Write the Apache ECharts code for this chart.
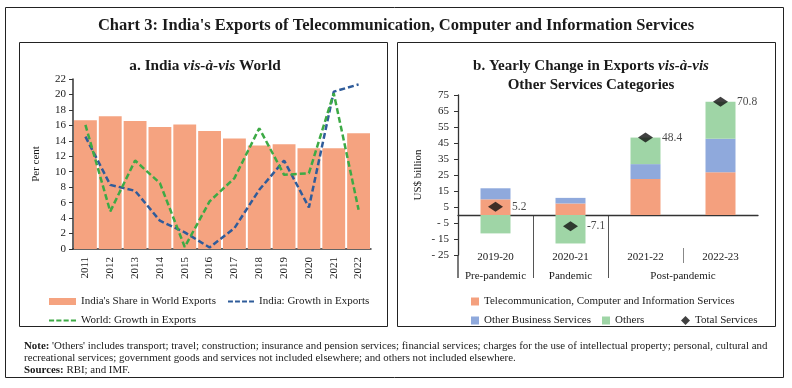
<!DOCTYPE html>
<html><head><meta charset="utf-8">
<script src="https://cdn.jsdelivr.net/npm/echarts@6/dist/echarts.min.js"></script>
<style>html,body{margin:0;padding:0;background:#fff}#c{width:792px;height:388px}</style>
</head><body><div id="c"></div>
<script>
// ---- Panel a data ----
const years = ['2011','2012','2013','2014','2015','2016','2017','2018','2019','2020','2021','2022'];
const indiaShare = [16.66,17.18,16.57,15.8,16.1,15.28,14.29,13.39,13.56,13.04,13.04,14.98];
const indiaGrowth = [14.55,8.3,7.53,3.66,2.15,0.2,2.7,7.66,11.45,5.38,20.36,21.3];
const worldGrowth = [16.06,4.86,11.45,8.52,0.26,6.16,9.17,15.63,9.6,9.81,20.15,5.08];

// ---- Panel b data ----
const periods = ['2019-20','2020-21','2021-22','2022-23'];
const phases = ['Pre-pandemic','Pandemic','Post-pandemic'];
const phaseOf = [0,1,2,2];
const telecom = [9.8,7.2,22.5,26.7];
const otherBiz = [6.9,3.5,9.3,21.0];
const others = [-11.5,-17.8,16.6,23.1];
const total = [5.2,-7.1,48.4,70.8];
const rightTicks = [-25,-15,-5,5,15,25,35,45,55,65,75];

const FONT = 'Liberation Serif';
const TXT = '#1a1a1a';
const AX = '#333';
const DASH_ICON = 'path://M0,0h7v3h-7z M10,0h7v3h-7z M20,0h7v3h-7z M30,0h7v3h-7z';

const phaseCenters = phases.map((p,i)=>{
  const idx = phaseOf.map((v,j)=>v===i?j:-1).filter(j=>j>=0);
  return (Math.min(...idx) + Math.max(...idx) + 1) / 2;
});

const chart = echarts.init(document.getElementById('c'), null, {renderer:'canvas'});
const baseText = {fontFamily: FONT, color: TXT};

const option = {
  animation: false,
  backgroundColor: '#fff',
  textStyle: {fontFamily: FONT},
  title: [
    {text: "Chart 3: India's Exports of Telecommunication, Computer and Information Services",
     left: 391, textAlign: 'center', top: 12,
     textStyle: {fontFamily: FONT, fontSize: 16.5, fontWeight: 'bold', color: TXT}},
    {text: '{n|a. India }{i|vis-à-vis}{n| World}', left: 200, textAlign: 'center', top: 54,
     textStyle: {rich: {
       n: {fontFamily: FONT, fontSize: 15.3, fontWeight: 'bold', color: TXT},
       i: {fontFamily: FONT, fontSize: 15.3, fontWeight: 'bold', fontStyle: 'italic', color: TXT}}}},
    {text: '{n|b. Yearly Change in Exports }{i|vis-à-vis}\n{n|Other Services Categories}', left: 586, textAlign: 'center', top: 52,
     textStyle: {rich: {
       n: {fontFamily: FONT, fontSize: 15, fontWeight: 'bold', color: TXT, lineHeight: 19},
       i: {fontFamily: FONT, fontSize: 15, fontWeight: 'bold', fontStyle: 'italic', color: TXT, lineHeight: 19}}}},
    {text: "{b|Note:}{t| 'Others' includes transport; travel; construction; insurance and pension services; financial services; charges for the use of intellectual property; personal, cultural and}\n{t|recreational services; government goods and services not included elsewhere; and others not included elsewhere.}\n{b|Sources:}{t| RBI; and IMF.}",
     left: 19, top: 335,
     textStyle: {fontWeight: 'normal', rich: {
       b: {fontFamily: FONT, fontSize: 10.9, fontWeight: 'bold', color: TXT, lineHeight: 12},
       t: {fontFamily: FONT, fontSize: 10.9, fontWeight: 'normal', color: TXT, lineHeight: 12}}}}
  ],
  grid: [
    {left: 73, top: 79, width: 298, height: 170},
    {left: 458, top: 95, width: 300, height: 160}
  ],
  legend: [
    {data: ["India's Share in World Exports"], left: 44, top: 291, icon: 'rect', itemWidth: 27, itemHeight: 7,
     textStyle: Object.assign({fontSize: 11}, baseText)},
    {data: ['India: Growth in Exports'], left: 223, top: 291, icon: DASH_ICON, itemWidth: 26, itemHeight: 3,
     textStyle: Object.assign({fontSize: 11}, baseText)},
    {data: ['World: Growth in Exports'], left: 44, top: 310, icon: DASH_ICON, itemWidth: 27, itemHeight: 3,
     textStyle: Object.assign({fontSize: 11}, baseText)},
    {data: ['Telecommunication, Computer and Information Services'], left: 466, top: 291, icon: 'rect', itemWidth: 8, itemHeight: 8,
     textStyle: Object.assign({fontSize: 11}, baseText)},
    {data: ['Other Business Services'], left: 466, top: 310, icon: 'rect', itemWidth: 8, itemHeight: 8,
     textStyle: Object.assign({fontSize: 11}, baseText)},
    {data: ['Others'], left: 597, top: 310, icon: 'rect', itemWidth: 8, itemHeight: 8,
     textStyle: Object.assign({fontSize: 11}, baseText)},
    {data: ['Total Services'], left: 676, top: 310, icon: 'diamond', itemWidth: 9, itemHeight: 9,
     textStyle: Object.assign({fontSize: 11}, baseText)}
  ],
  xAxis: [
    {gridIndex: 0, type: 'category', data: years,
     axisLine: {lineStyle: {color: AX, width: 1.5}},
     axisTick: {length: 4, lineStyle: {color: AX}},
     axisLabel: Object.assign({rotate: 90, fontSize: 11, margin: 8}, baseText)},
    {gridIndex: 1, type: 'category', data: periods, position: 'bottom',
     axisLine: {onZero: true, lineStyle: {color: AX, width: 1.3}},
     axisTick: {length: 4, lineStyle: {color: AX}},
     axisLabel: {show: false}},
    {gridIndex: 1, type: 'category', data: periods, position: 'bottom',
     axisLine: {show: false, onZero: false}, axisTick: {show: false},
     axisLabel: Object.assign({fontSize: 11, margin: 2, verticalAlign: 'middle'}, baseText)},
    {gridIndex: 1, type: 'value', min: 0, max: periods.length, position: 'bottom',
     axisLine: {show: false, onZero: false}, axisTick: {show: false}, splitLine: {show: false},
     axisLabel: Object.assign({customValues: phaseCenters, margin: 21, verticalAlign: 'middle', fontSize: 11,
       formatter: v => { const k = phaseCenters.indexOf(v); return k >= 0 ? phases[k] : ''; }}, baseText)}
  ],
  yAxis: [
    {gridIndex: 0, type: 'value', min: 0, max: 22, interval: 2,
     name: 'Per cent', nameLocation: 'middle', nameGap: 31, nameRotate: 90,
     nameTextStyle: Object.assign({fontSize: 11}, baseText),
     axisLine: {show: true, lineStyle: {color: AX, width: 1.5}},
     axisTick: {show: true, length: 4, lineStyle: {color: AX}},
     splitLine: {show: false},
     axisLabel: Object.assign({fontSize: 11, margin: 7}, baseText)},
    {gridIndex: 1, type: 'value', min: -25, max: 75,
     name: 'US$ billion', nameLocation: 'middle', nameGap: 34, nameRotate: 90,
     nameTextStyle: Object.assign({fontSize: 11}, baseText),
     axisLine: {show: true, lineStyle: {color: AX, width: 1.3}},
     axisTick: {show: true, length: 4, customValues: rightTicks, lineStyle: {color: AX}},
     splitLine: {show: false},
     axisLabel: Object.assign({fontSize: 11, margin: 9, customValues: rightTicks,
       formatter: v => v < 0 ? '- ' + Math.abs(v) : String(v)}, baseText)}
  ],
  series: [
    {name: "India's Share in World Exports", type: 'bar', xAxisIndex: 0, yAxisIndex: 0, data: indiaShare,
     barCategoryGap: '8%', itemStyle: {color: '#F5A380'}},
    {name: 'India: Growth in Exports', type: 'line', xAxisIndex: 0, yAxisIndex: 0, data: indiaGrowth,
     symbol: 'none', lineStyle: {color: '#2F5C9A', width: 2.5, type: [6, 3]}, itemStyle: {color: '#2F5C9A'}},
    {name: 'World: Growth in Exports', type: 'line', xAxisIndex: 0, yAxisIndex: 0, data: worldGrowth,
     symbol: 'none', lineStyle: {color: '#3DAA45', width: 2.5, type: [6, 3]}, itemStyle: {color: '#3DAA45'}},
    {name: 'Telecommunication, Computer and Information Services', type: 'bar', stack: 's', xAxisIndex: 1, yAxisIndex: 1,
     data: telecom, barWidth: 30, itemStyle: {color: '#F4A07E'}},
    {name: 'Other Business Services', type: 'bar', stack: 's', xAxisIndex: 1, yAxisIndex: 1,
     data: otherBiz, barWidth: 30, itemStyle: {color: '#8FA9DC'}},
    {name: 'Others', type: 'bar', stack: 's', xAxisIndex: 1, yAxisIndex: 1,
     data: others, barWidth: 30, itemStyle: {color: '#9FD5A6'}},
    {name: 'Total Services', type: 'scatter', xAxisIndex: 1, yAxisIndex: 1, data: total,
     symbol: 'diamond', symbolSize: [15, 10], itemStyle: {color: '#111'}, z: 5,
     label: Object.assign({show: true, position: 'right', distance: 9, fontSize: 11.5}, baseText)}
  ],
  graphic: [
    {id: 'outer', type: 'rect', shape: {x: 5.5, y: 7.5, width: 778, height: 370}, style: {fill: 'none', stroke: '#222', lineWidth: 1}},
    {id: 'pa', type: 'rect', shape: {x: 19.5, y: 42.5, width: 368, height: 284}, style: {fill: 'none', stroke: '#222', lineWidth: 1}},
    {id: 'pb', type: 'rect', shape: {x: 397.5, y: 42.5, width: 378, height: 284}, style: {fill: 'none', stroke: '#222', lineWidth: 1}}
  ]
};
chart.setOption(option);

const y0 = chart.convertToPixel({yAxisIndex: 1}, 0);
const yLow = chart.convertToPixel({yAxisIndex: 1}, -25);
const xAxisStart = chart.convertToPixel({xAxisIndex: 3}, 0);
const extra = [];
const bottomEnd = yLow + 23;
extra.push({id: 'yext', type: 'line', shape: {x1: xAxisStart, y1: yLow, x2: xAxisStart, y2: bottomEnd}, style: {stroke: AX, lineWidth: 1.3}});
for (let i = 1; i < periods.length; i++) {
  const x = Math.round(chart.convertToPixel({xAxisIndex: 3}, i)) + 0.5;
  if (phaseOf[i] !== phaseOf[i - 1]) {
    extra.push({id: 'sep' + i, type: 'line', shape: {x1: x, y1: y0, x2: x, y2: bottomEnd}, style: {stroke: '#555', lineWidth: 1}});
  } else {
    extra.push({id: 'sep' + i, type: 'line', shape: {x1: x, y1: yLow - 7, x2: x, y2: yLow + 8}, style: {stroke: '#888', lineWidth: 1}});
  }
}
chart.setOption({graphic: extra});
</script>
</body></html>
